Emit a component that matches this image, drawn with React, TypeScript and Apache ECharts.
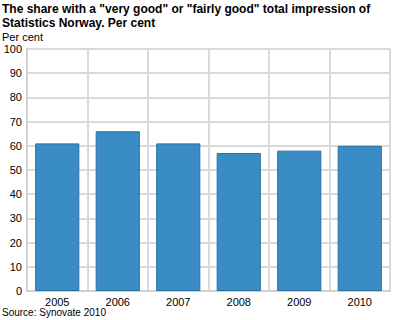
import React, { useEffect, useRef } from "react";
import * as echarts from "echarts";

const categories = ["2005", "2006", "2007", "2008", "2009", "2010"];
const values = [61, 66, 61, 57, 58, 60];
const titleLines = ["The share with a \"very good\" or \"fairly good\" total impression of", "Statistics Norway. Per cent"];
const unitLabel = "Per cent";
const sourceText = "Source: Synovate 2010";

export default function App() {
  const ref = useRef<HTMLDivElement>(null);
  useEffect(() => {
    const chart = echarts.init(ref.current!, undefined, { renderer: "svg" });
    const font = "'Liberation Sans', Arial, sans-serif";
    chart.setOption({
      animation: false,
      textStyle: { fontFamily: font },
      grid: { left: 27, right: 10, top: 49, bottom: 29, containLabel: false },
      graphic: [
        { type: "text", left: 2, top: 2, style: { text: titleLines.join("\n"), font: `bold 12px ${font}`, fill: "#000", lineHeight: 14 } },
        { type: "text", left: 2, top: 31, style: { text: unitLabel, font: `11px ${font}`, fill: "#000" } },
        { type: "text", left: 2, top: 307, style: { text: sourceText, font: `10px ${font}`, fill: "#000" } },
      ],
      xAxis: {
        type: "category",
        data: categories,
        boundaryGap: true,
        axisLine: { show: true, lineStyle: { color: "#d0d0d0", width: 2 } },
        axisTick: { show: false },
        splitLine: { show: true, interval: 0, lineStyle: { color: "#d9d9d9", width: 2 } },
        axisLabel: { color: "#000", fontSize: 11, fontFamily: font, margin: 5, interval: 0 },
      },
      yAxis: {
        type: "value",
        min: 0,
        max: 100,
        interval: 10,
        axisLine: { show: true, lineStyle: { color: "#d0d0d0", width: 2 } },
        axisTick: { show: false },
        splitLine: { show: true, lineStyle: { color: "#d9d9d9", width: 2 } },
        axisLabel: { color: "#000", fontSize: 11, fontFamily: font, margin: 5 },
      },
      series: [
        {
          type: "bar",
          data: values,
          barCategoryGap: "27%",
          itemStyle: { color: "#3a8dc4", borderColor: "#2b6f9e", borderWidth: 1 },
        },
      ],
    });
    return () => chart.dispose();
  }, []);
  return <div ref={ref} style={{ width: 400, height: 320, position: "absolute", left: 0, top: 0 }} />;
}
